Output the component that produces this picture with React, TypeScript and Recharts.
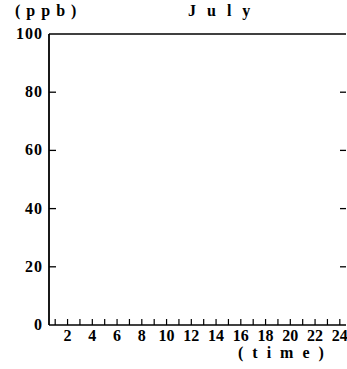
import React from "react";
import { LineChart, Line, XAxis, YAxis, ReferenceLine } from "recharts";

const hours = [1, 2, 3, 4, 5, 6, 7, 8, 9, 10, 11, 12, 13, 14, 15, 16, 17, 18, 19, 20, 21, 22, 23, 24];
// no readings are drawn in the reference panel
const ppb: (number | null)[] = [
    null, null, null, null, null, null, null, null, null, null, null, null,
    null, null, null, null, null, null, null, null, null, null, null, null,
];
const yTicks = [0, 20, 40, 60, 80, 100];

const data = hours.map((h, i) => ({ hour: h, ppb: ppb[i] }));

const FONT = "'Liberation Serif', serif";
const PLOT_RIGHT = 346;

function LeftTick(props: any) {
    const { x, y, payload } = props;
    const v = payload.value;
    const inner = v !== 0 && v !== 100;
    return (
        <g>
            {inner ? <line x1={x} x2={x + 7} y1={y} y2={y} stroke="#000" strokeWidth={1.3} /> : null}
            {inner ? (
                <line x1={PLOT_RIGHT - 6} x2={PLOT_RIGHT} y1={y} y2={y} stroke="#000" strokeWidth={1.3} />
            ) : null}
            <text x={x - 6} y={y + 5} textAnchor="end" fontFamily={FONT} fontWeight="bold" fontSize={16} letterSpacing={1} fill="#000">
                {v}
            </text>
        </g>
    );
}

function BottomTick(props: any) {
    const { x, y, payload } = props;
    const v = payload.value;
    return (
        <g>
            <line x1={x} x2={x} y1={y} y2={y - 6} stroke="#000" strokeWidth={1.2} />
            {v % 2 === 0 ? (
                <text x={x} y={y + 16} textAnchor="middle" fontFamily={FONT} fontWeight="bold" fontSize={16} fill="#000">
                    {v}
                </text>
            ) : null}
        </g>
    );
}

const labelStyle: React.CSSProperties = {
    position: "absolute",
    fontFamily: FONT,
    fontWeight: "bold",
    fontSize: 16,
    lineHeight: "15px",
    whiteSpace: "nowrap",
};

export default function App() {
    return (
        <div style={{ position: "absolute", left: 0, top: 0, width: 347, height: 369, background: "#fff" }}>
            <LineChart width={347} height={369} data={data} margin={{ top: 34, right: 1, left: 0, bottom: 0 }}>
                <XAxis
                    dataKey="hour"
                    type="number"
                    domain={[0.5, 24.5]}
                    allowDataOverflow
                    ticks={hours}
                    interval={0}
                    tickSize={0}
                    tickMargin={0}
                    tickLine={false}
                    tick={<BottomTick />}
                    axisLine={{ stroke: "#000", strokeWidth: 1.5 }}
                    height={44}
                />
                <YAxis
                    yAxisId="l"
                    type="number"
                    domain={[0, 100]}
                    allowDataOverflow
                    ticks={yTicks}
                    interval={0}
                    width={49}
                    tickSize={0}
                    tickMargin={0}
                    tickLine={false}
                    tick={<LeftTick />}
                    axisLine={{ stroke: "#000", strokeWidth: 1.8 }}
                />
                <ReferenceLine yAxisId="l" y={100} stroke="#000" strokeWidth={1.3} />
                <Line
                    yAxisId="l"
                    dataKey="ppb"
                    stroke="#000"
                    dot={false}
                    isAnimationActive={false}
                />
            </LineChart>
            <div style={{ ...labelStyle, left: 15, top: 3, letterSpacing: 6 }}>(ppb)</div>
            <div style={{ ...labelStyle, left: 188, top: 3, letterSpacing: 11 }}>July</div>
            <div style={{ ...labelStyle, left: 238, top: 345, letterSpacing: 9 }}>(time)</div>
        </div>
    );
}
